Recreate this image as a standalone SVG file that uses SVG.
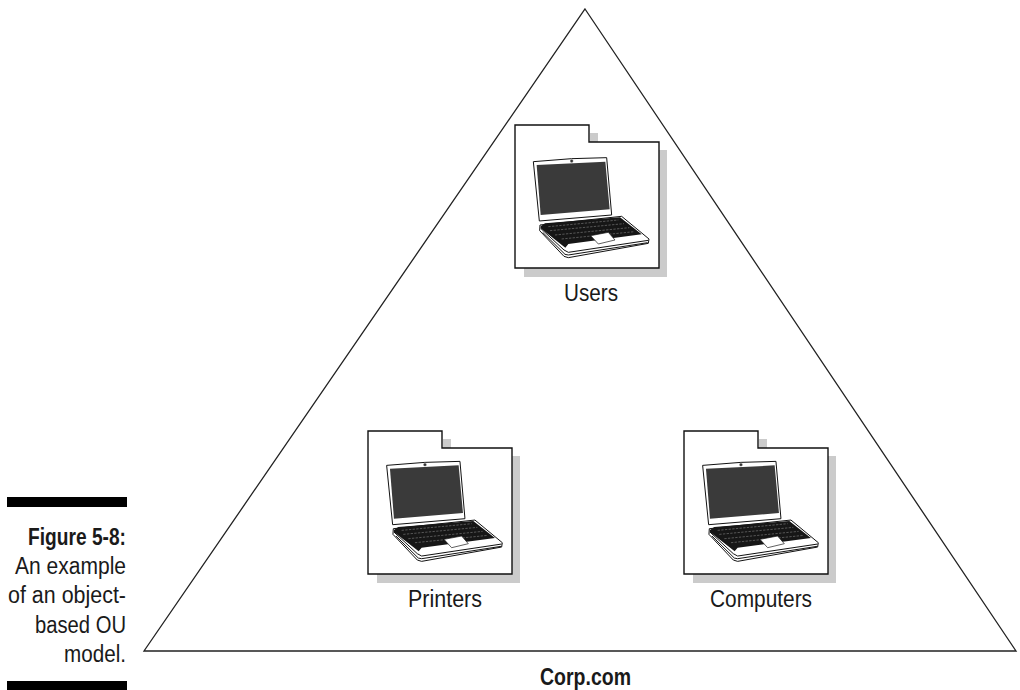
<svg xmlns="http://www.w3.org/2000/svg" width="1020" height="690" viewBox="0 0 1020 690">
<style>
text{font-family:"Liberation Sans",Arial,sans-serif;fill:#1a1a1a;font-size:23px}
.b{font-weight:bold}
.f{fill:#fff;stroke:#111;stroke-width:1.4}
.s{fill:#cbcbcb}
.o{fill:#fff;stroke:#111;stroke-width:3;stroke-linejoin:round}
.k{fill:none;stroke:#777;stroke-width:2;stroke-dasharray:7 4}
.e{fill:none;stroke:#111;stroke-width:3;stroke-linejoin:round}
</style>
<defs>
<g id="folder">
<path class="s" d="M75 8H83V25H152V152H9V143H75Z"/>
<path class="f" d="M0 0H74V17H144V143H0Z"/>
</g>
<g id="laptop" transform="scale(.33333)">
<path class="o" d="M100 140L215 131L320 128L335 300L118 318Z"/>
<path fill="#3a3a3a" d="M110 150L316 140L329 283L122 300Z"/>
<circle cx="215" cy="138" r="5" fill="#333" stroke="#fff" stroke-width="1"/>
<path class="o" d="M120 330L365 304L447 372L445 385L205 428L192 424L119 347Z"/>
<path fill="#161616" d="M122 334L135 325L360 307L425 358L205 387L196 398L122 340Z"/>
<path class="k" d="M145 335L355 315M150 347L372 326M165 360L388 338M185 372L403 350"/>
<path d="M272 362L325 352L345 375L295 387Z" fill="#fff" stroke="#111" stroke-width="2"/>
<path class="e" d="M122 340L192 405L205 412L445 376M128 352L195 418L205 420L443 383"/>
</g>
</defs>
<g id="connectors"></g>
<g id="triangle"><path d="M585 9L1016 651H144Z" fill="none" stroke="#222" stroke-width="1.300"/></g>
<g id="users"><use href="#folder" x="515" y="125"/><use href="#laptop" x="500" y="115"/><text x="564" y="301" textLength="54" lengthAdjust="spacingAndGlyphs">Users</text></g>
<g id="printers"><use href="#folder" x="368" y="431"/><use href="#laptop" x="353.300" y="418.700"/><text x="408" y="607" textLength="74" lengthAdjust="spacingAndGlyphs">Printers</text></g>
<g id="computers"><use href="#folder" x="684" y="431"/><use href="#laptop" x="669.300" y="418.700"/><text x="710" y="607" textLength="102" lengthAdjust="spacingAndGlyphs">Computers</text></g>
<g id="corp"><text class="b" x="540" y="685" textLength="91" lengthAdjust="spacingAndGlyphs">Corp.com</text></g>
<g id="caption">
<rect x="7" y="497" width="120" height="10" fill="#000"/>
<rect x="7" y="681" width="120" height="9" fill="#000"/>
<text class="b" x="28" y="545" textLength="98" lengthAdjust="spacingAndGlyphs">Figure 5-8:</text>
<text x="15" y="574" textLength="111" lengthAdjust="spacingAndGlyphs">An example</text>
<text x="8" y="603" textLength="118" lengthAdjust="spacingAndGlyphs">of an object-</text>
<text x="35" y="633" textLength="91" lengthAdjust="spacingAndGlyphs">based OU</text>
<text x="64" y="662" textLength="62" lengthAdjust="spacingAndGlyphs">model.</text>
</g>
</svg>
